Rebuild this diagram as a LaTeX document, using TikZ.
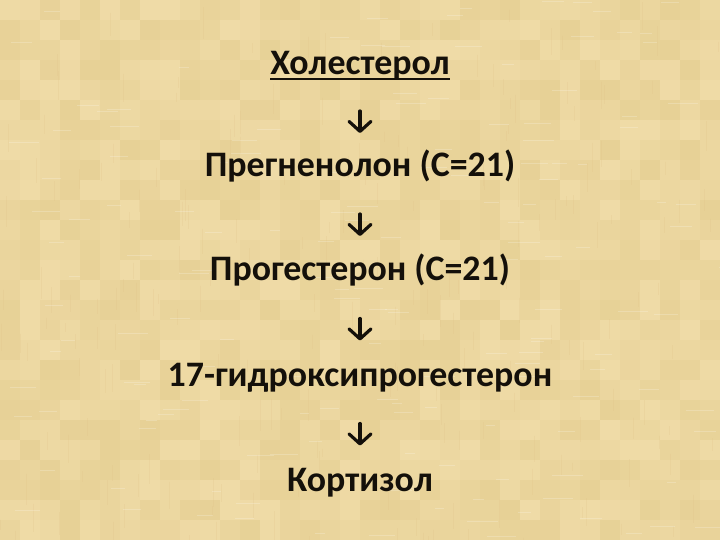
\documentclass[tikz,border=0pt]{standalone}
\usepackage{fontspec}
\setmainfont{Carlito}
\usetikzlibrary{arrows.meta,calc}
\definecolor{parch}{RGB}{235,215,160}
\definecolor{ink}{RGB}{20,16,10}
\tikzset{
  lbl/.style={anchor=base, inner sep=0pt, text=ink, font=\bfseries\fontsize{36}{42}\selectfont},
  flow/.style={draw=ink, line width=3.2bp, -{Straight Barb[length=10bp,width=22bp,line width=3.2bp,line cap=round,line join=round]}, line cap=round},
}
\begin{document}
\begin{tikzpicture}[x=1bp,y=-1bp]
\useasboundingbox (0,0) rectangle (720,540);
\fill[parch] (0,0) rectangle (720,540);
\pgfmathsetseed{7}
\foreach \i in {0,...,35}{
  \foreach \j in {0,...,26}{
    \pgfmathsetmacro\t{rnd}
    \pgfmathsetmacro\r{int(231+9*\t)}
    \pgfmathsetmacro\g{int(209+11*\t)}
    \pgfmathsetmacro\b{int(150+18*\t)}
    \definecolor{cellc}{RGB}{\r,\g,\b}
    \fill[cellc] (\i*20,\j*20) rectangle ++(20,20);
  }
}
\foreach \k in {1,...,220}{
  \pgfmathsetmacro\xx{rnd*720}
  \pgfmathsetmacro\yy{rnd*540}
  \pgfmathsetmacro\ll{8+rnd*24}
  \draw[parch!70!brown, opacity=0.18, line width=0.8bp] (\xx,\yy) -- ++(0,\ll);
}
\foreach \k in {1,...,160}{
  \pgfmathsetmacro\xx{rnd*720}
  \pgfmathsetmacro\yy{rnd*540}
  \pgfmathsetmacro\ll{8+rnd*24}
  \draw[white, opacity=0.2, line width=0.8bp] (\xx,\yy) -- ++(\ll,0);
}

\node[lbl] (n1) at (360,75)  {Холестерол};
\node[lbl] (n2) at (360,177) {Прегненолон (С=21)};
\node[lbl] (n3) at (360,281) {Прогестерон (С=21)};
\node[lbl] (n4) at (360,386) {17-гидроксипрогестерон};
\node[lbl] (n5) at (360,491) {Кортизол};

\draw[ink, line width=1.8bp] ([yshift=-4bp]n1.base west) -- ([yshift=-4bp]n1.base east);

\foreach \a/\b in {n1/n2,n2/n3,n3/n4,n4/n5}{
  \coordinate (m) at ($(\a.base)!0.5!(\b.base)$);
  \draw[flow] ([yshift=15bp]m) -- ([yshift=-7bp]m);
}
\end{tikzpicture}
\end{document}
